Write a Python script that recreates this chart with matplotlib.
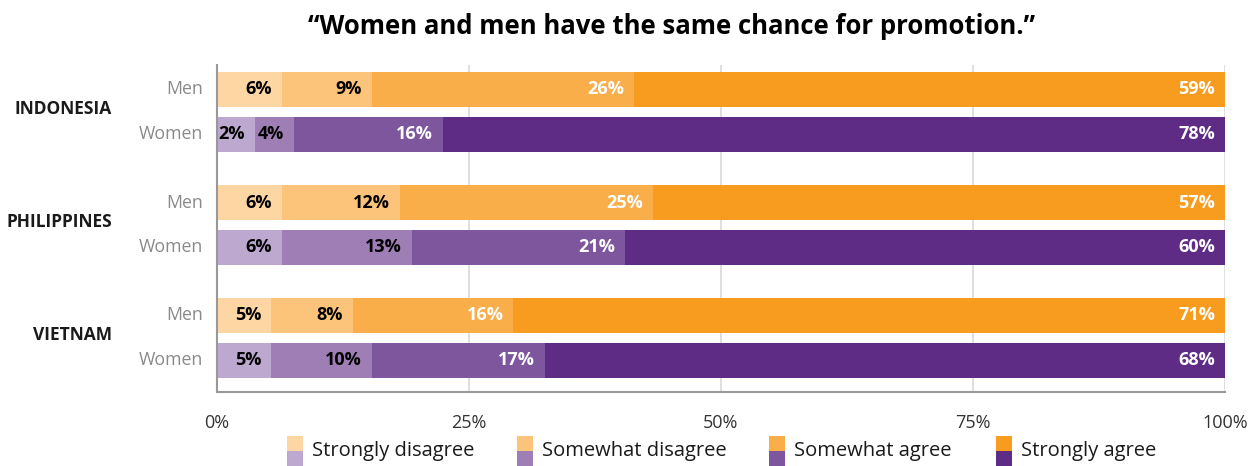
import matplotlib
matplotlib.use("Agg")
import matplotlib.pyplot as plt
from matplotlib.patches import Rectangle

plt.rcParams['font.family'] = ['Open Sans', 'DejaVu Sans']

countries = ["INDONESIA", "PHILIPPINES", "VIETNAM"]
genders = ["Men", "Women"]
categories = ["Strongly disagree", "Somewhat disagree", "Somewhat agree", "Strongly agree"]

# segment widths as drawn (percent)
men_values = [
    [6.45, 8.94, 26.0, 58.61],
    [6.45, 11.7, 25.1, 56.75],
    [5.36, 8.14, 15.9, 70.6],
]
women_values = [
    [3.77, 3.87, 14.8, 77.56],
    [6.45, 12.9, 21.1, 59.55],
    [5.36, 10.0, 17.2, 67.44],
]
# printed labels
men_labels = [
    ["6%", "9%", "26%", "59%"],
    ["6%", "12%", "25%", "57%"],
    ["5%", "8%", "16%", "71%"],
]
women_labels = [
    ["2%", "4%", "16%", "78%"],
    ["6%", "13%", "21%", "60%"],
    ["5%", "10%", "17%", "68%"],
]
xticks = [0, 25, 50, 75, 100]
xtick_labels = ["0%", "25%", "50%", "75%", "100%"]
title = "\u201cWomen and men have the same chance for promotion.\u201d"

men_colors = ["#FDD6A4", "#FCC37A", "#F9AE4A", "#F89C1F"]
women_colors = ["#BDA8D0", "#9E7EB5", "#7D569D", "#5E2B85"]
label_colors = ["black", "black", "white", "white"]

W, H = 1248, 466
fig = plt.figure(figsize=(W / 100, H / 100), dpi=100)

ax_left, ax_right, ax_top, ax_bottom = 217, 1225, 65, 392
ax = fig.add_axes([ax_left / W, 1 - ax_bottom / H, (ax_right - ax_left) / W, (ax_bottom - ax_top) / H])
ax.set_xlim(0, 100)
ax.set_ylim(ax_bottom, ax_top)  # y in pixel-like units, inverted
px = 100 / (ax_right - ax_left)  # data units per pixel along x

group_step = 113
men_off, women_off = 89.5, 134
bar_h = 35

for g, country in enumerate(countries):
    for vals, labs, cols, off in [(men_values[g], men_labels[g], men_colors, men_off),
                                   (women_values[g], women_labels[g], women_colors, women_off)]:
        y = off + g * group_step
        left = 0
        for v, lab, c, tc in zip(vals, labs, cols, label_colors):
            ax.barh(y, v, left=left, height=bar_h, color=c, edgecolor='none', zorder=2)
            ax.text(left + v - 10 * px, y, lab, ha='right', va='center', color=tc,
                    fontsize=13, fontweight='bold', zorder=3)
            left += v
    ax.text(-14 * px, men_off + g * group_step, "Men", ha='right', va='center', color='#8a8a8a',
            fontsize=12.8)
    ax.text(-14 * px, women_off + g * group_step, "Women", ha='right', va='center', color='#8a8a8a',
            fontsize=12.8)
    ax.text(112 / W, 1 - ((men_off + women_off) / 2 - 3 + g * group_step) / H, country,
            ha='right', va='center', fontsize=12.5, fontweight='bold', color='#1a1a1a',
            transform=fig.transFigure)

ax.set_xticks(xticks)
ax.set_xticklabels(xtick_labels, fontsize=13, color='#333333')
ax.tick_params(axis='x', length=0, pad=16)
ax.set_yticks([])
ax.grid(axis='x', color='#d9d9d9', linewidth=1.2, zorder=0)
ax.set_axisbelow(True)
for s in ['top', 'right']:
    ax.spines[s].set_visible(False)
ax.spines['left'].set_color('#999999')
ax.spines['left'].set_linewidth(1.5)
ax.spines['bottom'].set_color('#999999')
ax.spines['bottom'].set_linewidth(1.5)

fig.text(672 / W, 1 - 27 / H, title, ha='center', va='center', fontsize=18.5,
         fontweight='bold', color='black')

# legend
leg_x = [287, 517, 769, 996]
for x, cat, mc, wc in zip(leg_x, categories, men_colors, women_colors):
    fig.add_artist(Rectangle((x / W, 1 - 451 / H), 16 / W, 15 / H, transform=fig.transFigure,
                             facecolor=mc, edgecolor='none'))
    fig.add_artist(Rectangle((x / W, 1 - 466 / H), 16 / W, 15 / H, transform=fig.transFigure,
                             facecolor=wc, edgecolor='none'))
    fig.text((x + 25) / W, 1 - 451 / H, cat, ha='left', va='center', fontsize=14.5, color='#1a1a1a')

fig.savefig("out.png", dpi=100)
